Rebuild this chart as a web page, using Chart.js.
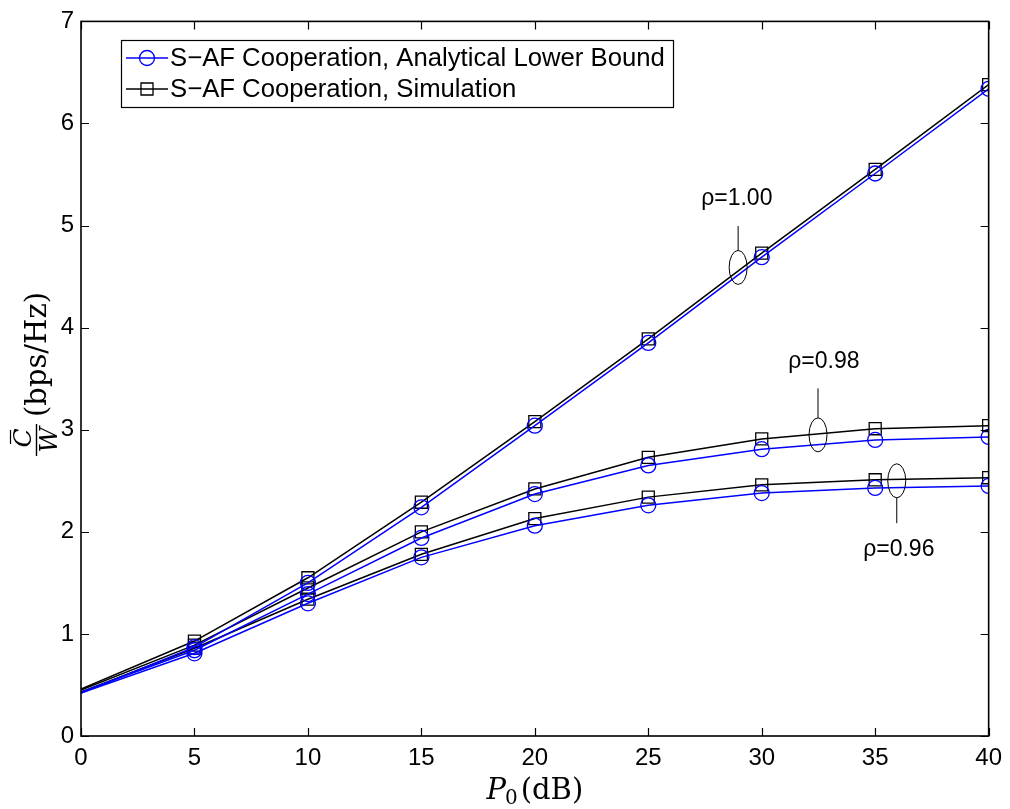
<!DOCTYPE html>
<html>
<head>
<meta charset="utf-8">
<script src="https://cdn.jsdelivr.net/npm/chart.js@4.4.1/dist/chart.umd.min.js"></script>
<style>
html,body{margin:0;padding:0;background:#fff;}
#wrap{width:1010px;height:809px;position:relative;}
</style>
</head>
<body>
<div id="wrap"><canvas id="c" width="1010" height="809"></canvas></div>
<script>
// ---- data ----
const pValues = [0, 5, 10, 15, 20, 25, 30, 35, 40];
const xTicks = [0, 5, 10, 15, 20, 25, 30, 35, 40];
const yTicks = [0, 1, 2, 3, 4, 5, 6, 7];

const analyticRho100 = [0.42, 0.87, 1.50, 2.24, 3.04, 3.85, 4.69, 5.51, 6.34];
const simRho100      = [0.46, 0.93, 1.55, 2.29, 3.08, 3.89, 4.73, 5.55, 6.38];
const analyticRho098 = [0.43, 0.84, 1.39, 1.94, 2.37, 2.65, 2.81, 2.90, 2.93];
const simRho098      = [0.45, 0.89, 1.45, 2.00, 2.42, 2.73, 2.91, 3.01, 3.04];
const analyticRho096 = [0.42, 0.81, 1.30, 1.75, 2.06, 2.26, 2.38, 2.43, 2.45];
const simRho096      = [0.43, 0.86, 1.34, 1.78, 2.13, 2.34, 2.46, 2.51, 2.53];

const legendLabels = ['S\u2212AF Cooperation, Analytical Lower Bound', 'S\u2212AF Cooperation, Simulation'];

const annotLabels = ['\u03c1=1.00', '\u03c1=0.98', '\u03c1=0.96'];
const annotEllipseX = [28.96, 32.48, 35.95];
const annotEllipseY = [4.59, 2.95, 2.50];
const annotTextX = [28.9, 32.74, 36.04];
const annotTextY = [5.26, 3.67, 1.83];
const annotLeaderUp = [true, true, false];

// ---- helpers ----
const BLUE = '#0000ff', BLACK = '#000000';
const pts = arr => arr.map((v, i) => ({x: pValues[i], y: v}));
function ds(label, arr, color, style) {
  const r = style === 'circle' ? 7.5 : 8.5;
  return {
    label, data: pts(arr), borderColor: color, backgroundColor: 'rgba(0,0,0,0)',
    borderWidth: 1.5, pointStyle: style,
    pointRadius: pValues.map(p => (p === 0 ? 0 : r)),
    pointBorderWidth: 1.3, pointBorderColor: color, pointBackgroundColor: 'rgba(0,0,0,0)',
    tension: 0, fill: false
  };
}

const framePlugin = {
  id: 'frame',
  afterDatasetsDraw(chart) {
    const {ctx, chartArea: a, scales: {x, y}} = chart;
    ctx.save();
    // annotations
    ctx.strokeStyle = BLACK; ctx.lineWidth = 1; ctx.fillStyle = BLACK;
    ctx.font = '23px "Liberation Sans", Arial, sans-serif';
    ctx.textAlign = 'center'; ctx.textBaseline = 'middle';
    const rx = 9, ry = 17;
    for (let i = 0; i < annotLabels.length; i++) {
      const ex = x.getPixelForValue(annotEllipseX[i]);
      const ey = y.getPixelForValue(annotEllipseY[i]);
      ctx.beginPath();
      ctx.ellipse(ex, ey, rx, ry, 0, 0, Math.PI * 2);
      ctx.stroke();
      const tx = x.getPixelForValue(annotTextX[i]);
      const ty = y.getPixelForValue(annotTextY[i]);
      ctx.beginPath();
      if (annotLeaderUp[i]) { ctx.moveTo(ex, ey - ry); ctx.lineTo(ex, ty + 27); }
      else { ctx.moveTo(ex, ey + ry); ctx.lineTo(ex, ty - 26); }
      ctx.stroke();
      ctx.fillText(annotLabels[i], tx, ty);
    }
    // frame
    ctx.lineWidth = 1.6; ctx.strokeStyle = BLACK;
    ctx.strokeRect(a.left, a.top, a.right - a.left, a.bottom - a.top);
    // inward ticks on all sides
    const tl = 8;
    ctx.lineWidth = 1.2;
    ctx.beginPath();
    xTicks.forEach(v => {
      const px = Math.round(x.getPixelForValue(v)) + 0.5;
      ctx.moveTo(px, a.bottom); ctx.lineTo(px, a.bottom - tl);
      ctx.moveTo(px, a.top); ctx.lineTo(px, a.top + tl);
    });
    yTicks.forEach(v => {
      const py = Math.round(y.getPixelForValue(v)) + 0.5;
      ctx.moveTo(a.left, py); ctx.lineTo(a.left + tl, py);
      ctx.moveTo(a.right, py); ctx.lineTo(a.right - tl, py);
    });
    ctx.stroke();

    // legend
    const lx = 121, ly = 40, lw = 552, lh = 67;
    ctx.fillStyle = '#fff';
    ctx.fillRect(lx, ly, lw, lh);
    ctx.lineWidth = 1.2; ctx.strokeStyle = BLACK;
    ctx.strokeRect(lx + 0.5, ly + 0.5, lw, lh);
    const rows = [58, 89];
    const colors = [BLUE, BLACK];
    ctx.font = '25.7px "Liberation Sans", Arial, sans-serif';
    ctx.textAlign = 'left'; ctx.textBaseline = 'middle';
    rows.forEach((ry2, i) => {
      ctx.strokeStyle = colors[i]; ctx.lineWidth = 1.5;
      ctx.beginPath(); ctx.moveTo(126, ry2); ctx.lineTo(168, ry2); ctx.stroke();
      ctx.lineWidth = 1.3;
      ctx.beginPath();
      if (i === 0) ctx.arc(147, ry2, 7.5, 0, Math.PI * 2);
      else ctx.rect(147 - 6, ry2 - 6, 12, 12);
      ctx.stroke();
      ctx.fillStyle = BLACK;
      ctx.fillText(legendLabels[i], 170, ry2 + 1);
    });

    // x-axis title: P_0(dB)
    ctx.fillStyle = BLACK; ctx.textBaseline = 'alphabetic'; ctx.textAlign = 'left';
    const serif = '"DejaVu Serif", "Liberation Serif", serif';
    ctx.font = 'italic 29px ' + serif;
    const pW = ctx.measureText('P').width;
    ctx.font = '20px ' + serif;
    const zW = ctx.measureText('0').width;
    ctx.font = '29px ' + serif;
    const dW = ctx.measureText('(dB)').width;
    const total = pW + zW + 2 + dW;
    let sx = (a.left + a.right) / 2 - total / 2;
    const base = 799;
    ctx.font = 'italic 29px ' + serif; ctx.fillText('P', sx, base); sx += pW;
    ctx.font = '20px ' + serif; ctx.fillText('0', sx - 1, base + 5); sx += zW + 2;
    ctx.font = '29px ' + serif; ctx.fillText('(dB)', sx, base);

    // y-axis title: C̄/W (bps/Hz), rotated
    ctx.save();
    ctx.rotate(-Math.PI / 2);
    // frame coords: fx = -screenY, fy = screenX
    ctx.font = '29px ' + serif;
    ctx.textAlign = 'left';
    ctx.fillText('(bps/Hz)', -417, 46);
    ctx.font = 'italic 25px ' + serif;
    ctx.textAlign = 'center';
    ctx.fillText('C', -438, 31);
    ctx.fillText('W', -440, 57);
    ctx.lineWidth = 1.4; ctx.strokeStyle = BLACK;
    ctx.beginPath(); ctx.moveTo(-456, 36.5); ctx.lineTo(-424, 36.5); ctx.stroke();
    ctx.lineWidth = 1.2;
    ctx.beginPath(); ctx.moveTo(-444, 10.5); ctx.lineTo(-430, 10.5); ctx.stroke();
    ctx.restore();

    ctx.restore();
  }
};

new Chart(document.getElementById('c'), {
  type: 'line',
  data: {
    datasets: [
      ds('rho100a', analyticRho100, BLUE, 'circle'),
      ds('rho098a', analyticRho098, BLUE, 'circle'),
      ds('rho096a', analyticRho096, BLUE, 'circle'),
      ds('rho100s', simRho100, BLACK, 'rect'),
      ds('rho098s', simRho098, BLACK, 'rect'),
      ds('rho096s', simRho096, BLACK, 'rect')
    ]
  },
  options: {
    responsive: false,
    animation: false,
    events: [],
    layout: {padding: {top: 15, right: 20, left: 0, bottom: 0}},
    plugins: {legend: {display: false}, tooltip: {enabled: false}},
    scales: {
      x: {
        type: 'linear', min: 0, max: 40,
        afterFit: s => { s.height = 73; },
        afterBuildTicks: s => { s.ticks = xTicks.map(v => ({value: v})); },
        grid: {display: false, drawTicks: false},
        border: {display: false},
        ticks: {color: BLACK, padding: 8, maxRotation: 0, autoSkip: false,
                font: {family: '"Liberation Sans", Arial, sans-serif', size: 24}}
      },
      y: {
        type: 'linear', min: 0, max: 7,
        afterFit: s => { s.width = 81; },
        afterBuildTicks: s => { s.ticks = yTicks.map(v => ({value: v})); },
        grid: {display: false, drawTicks: false},
        border: {display: false},
        ticks: {color: BLACK, padding: 7, autoSkip: false,
                font: {family: '"Liberation Sans", Arial, sans-serif', size: 24}}
      }
    }
  },
  plugins: [framePlugin]
});
</script>
</body>
</html>
